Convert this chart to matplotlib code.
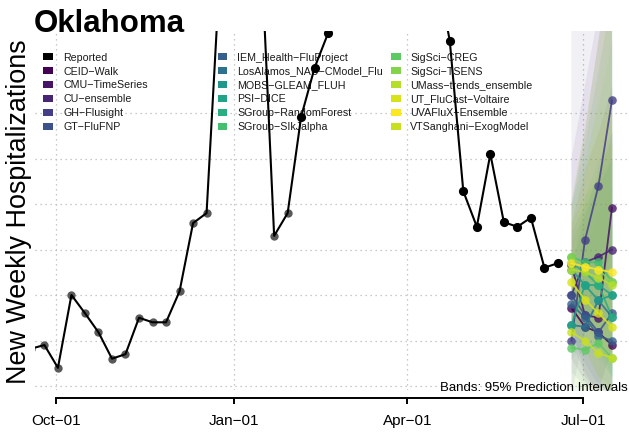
import matplotlib
matplotlib.use("Agg")
import matplotlib.pyplot as plt
import matplotlib.dates as mdates
from matplotlib.patches import Rectangle
import pandas as pd

plt.rcParams['font.family'] = ['Liberation Sans', 'DejaVu Sans']

# ---------------- data ----------------
reported_start = "2022-09-18"
reported_values = [91, 95, 70, 150, 130, 109, 80, 85, 125, 120,
                   120, 154, 229, 240, 510, 570, 560, 541, 215, 240,
                   346, 400, 438, 520, 580, 620, 640, 620, 600, 570,
                   510, 429, 264, 225, 305, 230, 225, 235, 180, 185]
gray_before = "2023-02-05"

forecast_dates = ["2023-06-25", "2023-07-02", "2023-07-09", "2023-07-16"]

models = ["CEID\u2212Walk", "CMU\u2212TimeSeries", "CU\u2212ensemble", "GH\u2212Flusight",
          "GT\u2212FluFNP", "IEM_Health\u2212FluProject", "LosAlamos_NAU\u2212CModel_Flu",
          "MOBS\u2212GLEAM_FLUH", "PSI\u2212DICE", "SGroup\u2212RandomForest",
          "SGroup\u2212SIkJalpha", "SigSci\u2212CREG", "SigSci\u2212TSENS",
          "UMass\u2212trends_ensemble", "UT_FluCast\u2212Voltaire", "UVAFluX\u2212Ensemble",
          "VTSanghani\u2212ExogModel"]
model_colors = ["#440154", "#481467", "#482475", "#433e85", "#3b528b", "#355f8d",
                "#2c718e", "#1f988b", "#20a386", "#29af7f", "#44bf70", "#5ec962",
                "#84d44b", "#b5de2b", "#d8e219", "#fde725", "#c8e020"]

fc_median = [
    [136, 115, 109, 95],
    [183, 128, 125, 246],
    [150, 186, 192, 200],
    [100, 210, 270, 364],
    [150, 128, 109, 130],
    [140, 125, 105, 100],
    [117, 115, 144, 126],
    [178, 161, 144, 150],
    [117, 161, 161, 150],
    [185, 175, 161, 126],
    [192, 186, 186, 164],
    [92, 90, 97, 81],
    [192, 181, 178, 164],
    [178, 175, 169, 161],
    [164, 145, 130, 115],
    [185, 181, 178, 175],
    [109, 100, 86, 81],
]
fc_lower = [
    [80, 55, 35, 20],
    [120, 60, 45, 90],
    [110, 120, 110, 100],
    [40, 110, 150, 200],
    [105, 75, 50, 45],
    [95, 65, 40, 30],
    [65, 50, 55, 40],
    [120, 90, 60, 50],
    [80, 100, 80, 60],
    [150, 120, 90, 60],
    [150, 120, 100, 60],
    [45, 30, 20, 10],
    [140, 110, 90, 70],
    [120, 90, 60, 40],
    [120, 90, 60, 40],
    [140, 110, 90, 80],
    [55, 40, 20, 10],
]
fc_upper = [
    [250, 330, 430, 530],
    [300, 380, 460, 620],
    [230, 290, 330, 380],
    [460, 560, 650, 760],
    [220, 250, 280, 330],
    [210, 240, 270, 300],
    [180, 240, 290, 320],
    [250, 320, 400, 480],
    [180, 260, 300, 330],
    [230, 260, 280, 300],
    [250, 300, 360, 430],
    [160, 200, 240, 270],
    [260, 340, 430, 520],
    [250, 330, 430, 540],
    [230, 260, 290, 320],
    [240, 290, 330, 370],
    [190, 270, 380, 500],
]

x_tick_dates = ["2022-10-01", "2023-01-01", "2023-04-01", "2023-07-01"]
x_tick_labels = ["Oct\u221201", "Jan\u221201", "Apr\u221201", "Jul\u221201"]
y_grid = [50, 100, 150, 200, 250, 300, 350]

# ---------------- layout ----------------
W, H = 629, 433
fig = plt.figure(figsize=(W / 100, H / 100), dpi=100)


def fx(px):
    return px / W


def fy(py):
    return 1 - py / H


ax_l, ax_r, ax_t, ax_b = 34.5, 629, 31, 390
ax = fig.add_axes([fx(ax_l), fy(ax_b), fx(ax_r) - fx(ax_l), fy(ax_t) - fy(ax_b)])

t0 = mdates.date2num(pd.Timestamp(x_tick_dates[0]))
t3 = mdates.date2num(pd.Timestamp(x_tick_dates[-1]))
px0, px3 = 56, 583
scale = (px3 - px0) / (t3 - t0)
ax.set_xlim(t0 - (px0 - ax_l) / scale, t0 + (ax_r - px0) / scale)

vpp = 50 / 45.5
ax.set_ylim(50 + (386 - ax_b) * vpp, 50 + (386 - ax_t) * vpp)

# grid
ax.set_yticks(y_grid)
ax.set_xticks([mdates.date2num(pd.Timestamp(d)) for d in x_tick_dates])
ax.set_xticklabels(x_tick_labels)
ax.grid(True, linestyle=(0, (1, 3)), color='#b8b8b8', linewidth=0.9)
ax.set_axisbelow(True)
ax.tick_params(axis='y', length=0, labelleft=False)
ax.tick_params(axis='x', direction='out', length=4.3, width=1.4, pad=7,
               labelsize=11, colors='black')
for s in ['left', 'right', 'top']:
    ax.spines[s].set_visible(False)
ax.spines['bottom'].set_position(('outward', 6.1))
ax.spines['bottom'].set_linewidth(1.4)
ax.spines['bottom'].set_bounds(t0, t3)
ax.patch.set_visible(False)

# reported
rep_dates = pd.date_range(reported_start, periods=len(reported_values), freq="7D")
rep = pd.Series(reported_values, index=rep_dates)
gray = rep[rep.index < pd.Timestamp(gray_before)]
black = rep[rep.index >= pd.Timestamp(gray_before)]
ax.plot(gray.index, gray.values, 'o', color='#595959', ms=6.0, mec='none', zorder=2.5)
ax.plot(rep.index, rep.values, '-', color='black', lw=1.5, zorder=3)
ax.plot(black.index, black.values, 'o', color='black', ms=6.6, mec='none', zorder=4)

# forecasts
fdates = pd.to_datetime(forecast_dates)
for c, lo, up in zip(model_colors, fc_lower, fc_upper):
    ax.fill_between(fdates, lo, up, color=c, alpha=0.075, lw=0, zorder=1.5)
for c, med in zip(model_colors, fc_median):
    ax.plot(fdates, med, '-', color=c, lw=1.3, alpha=0.85, zorder=3)
    ax.plot(fdates, med, 'o', color=c, ms=6.2, alpha=0.8, mec='none', zorder=3)

# legend (manual, beneath the data)
entries = ["Reported"] + models
colors = ["black"] + model_colors
col_sw = [43.5, 217.5, 391]
col_tx = [63, 237, 410]
row_y0, row_dy = 56.7, 13.9
for i, (name, c) in enumerate(zip(entries, colors)):
    col, row = divmod(i, 6)
    ry = row_y0 + row * row_dy
    rect = Rectangle((fx(col_sw[col]), fy(ry + 3.5)), 9.5 / W, 7 / H,
                     transform=fig.transFigure, color=c, lw=0, zorder=1)
    ax.add_patch(rect)
    rect.set_clip_on(False)
    ax.text(fx(col_tx[col]), fy(ry + 3.9), name, transform=fig.transFigure,
            fontsize=7.7, ha='left', va='baseline', color='#1a1a1a', zorder=1)

# titles / labels
fig.text(fx(34), fy(31.5), "Oklahoma", fontsize=22.5, fontweight='bold',
         ha='left', va='baseline')
fig.text(fx(19), fy(212), "New Weekly Hospitalizations", rotation=90,
         fontsize=19.4, ha='center', va='center')
fig.text(fx(628), fy(391), "Bands: 95% Prediction Intervals", fontsize=9.5,
         ha='right', va='baseline')

fig.savefig("out.png", dpi=100)
